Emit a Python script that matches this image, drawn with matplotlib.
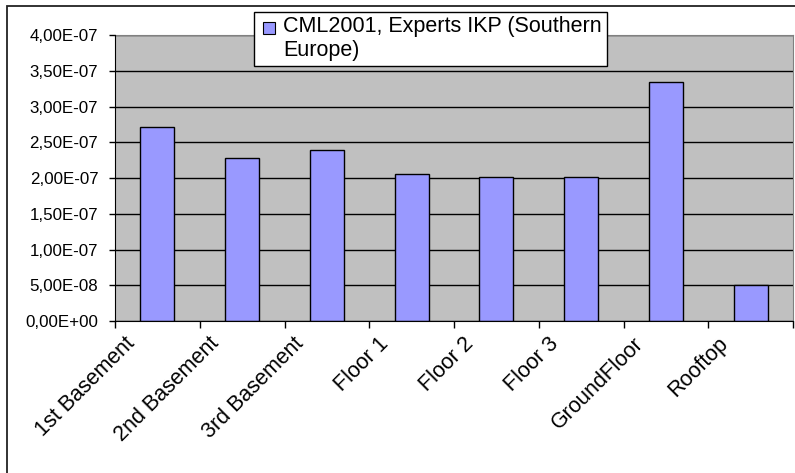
import matplotlib
matplotlib.use("Agg")
import matplotlib.pyplot as plt
import matplotlib.transforms as mtransforms
from matplotlib.patches import Rectangle
from matplotlib.ticker import FuncFormatter, MultipleLocator

plt.rcParams["font.family"] = ["Liberation Sans", "DejaVu Sans"]

CATEGORIES = ["1st Basement", "2nd Basement", "3rd Basement", "Floor 1",
              "Floor 2", "Floor 3", "GroundFloor", "Rooftop"]
VALUES = [2.71e-7, 2.28e-7, 2.39e-7, 2.05e-7, 2.01e-7, 2.01e-7, 3.34e-7, 5.0e-8]
SERIES_NAME = "CML2001, Experts IKP (Southern\nEurope)"

BAR_COLOR = "#9999FF"
PLOT_BG = "#C0C0C0"

W, H = 795, 473
fig = plt.figure(figsize=(W / 100, H / 100), dpi=100)
ax = fig.add_axes([115 / W, 1 - 321 / H, (793 - 115) / W, (321 - 35) / H])
ax.set_facecolor(PLOT_BG)

centers = [i + 0.5 for i in range(len(CATEGORIES))]
ax.bar(centers, VALUES, width=0.4, color=BAR_COLOR, edgecolor="black",
       linewidth=1.0, zorder=3)

# y axis: Excel-style scientific labels with decimal comma
ax.set_ylim(0, 4e-7)
ax.yaxis.set_major_locator(MultipleLocator(5e-8))
ax.yaxis.set_major_formatter(FuncFormatter(lambda v, _: f"{v:.2E}".replace(".", ",")))
ax.yaxis.grid(True, color="black", linewidth=1.0, zorder=1)
ax.tick_params(axis="y", direction="out", length=4, width=1, pad=8, labelsize=12.2)

# x axis: tick marks between categories, labels rotated under each category
ax.set_xlim(0, len(CATEGORIES))
ax.set_xticks(range(len(CATEGORIES) + 1), minor=True)
ax.set_xticks(centers)
ax.set_xticklabels(CATEGORIES, rotation=45, ha="right", va="center",
                   rotation_mode="anchor", fontsize=15.5)
ax.tick_params(axis="x", which="major", length=0, pad=14)
ax.tick_params(axis="x", which="minor", direction="out", length=5, width=1)
shift = mtransforms.ScaledTranslation(-26 / 100, 0, fig.dpi_scale_trans)
for lbl in ax.get_xticklabels():
    lbl.set_transform(lbl.get_transform() + shift)

for side in ("top", "right"):
    ax.spines[side].set_color("#808080")
for side in ("left", "bottom"):
    ax.spines[side].set_color("black")
    ax.spines[side].set_zorder(4)
ax.set_axisbelow(True)

# legend box (marker sits on the first line of the wrapped label)
fig.patches.append(Rectangle((254 / W, 1 - 66 / H), (607 - 254) / W, 54 / H,
                             transform=fig.transFigure, facecolor="white",
                             edgecolor="black", linewidth=1.0, zorder=5))
fig.patches.append(Rectangle((263 / W, 1 - 34 / H), 12 / W, 12 / H,
                             transform=fig.transFigure, facecolor=BAR_COLOR,
                             edgecolor="black", linewidth=0.8, zorder=6))
fig.text(283 / W, 1 - 16 / H, SERIES_NAME, fontsize=15.5, va="top", ha="left",
         linespacing=1.2, zorder=7)

# outer chart frame (only left and top edges fall inside the image)
fig.patches.append(Rectangle((7 / W, -0.05), 1.1, 1.05 - 6 / H,
                             transform=fig.transFigure, fill=False,
                             edgecolor="#222222", linewidth=1.3))

fig.savefig("out.png", dpi=100)
